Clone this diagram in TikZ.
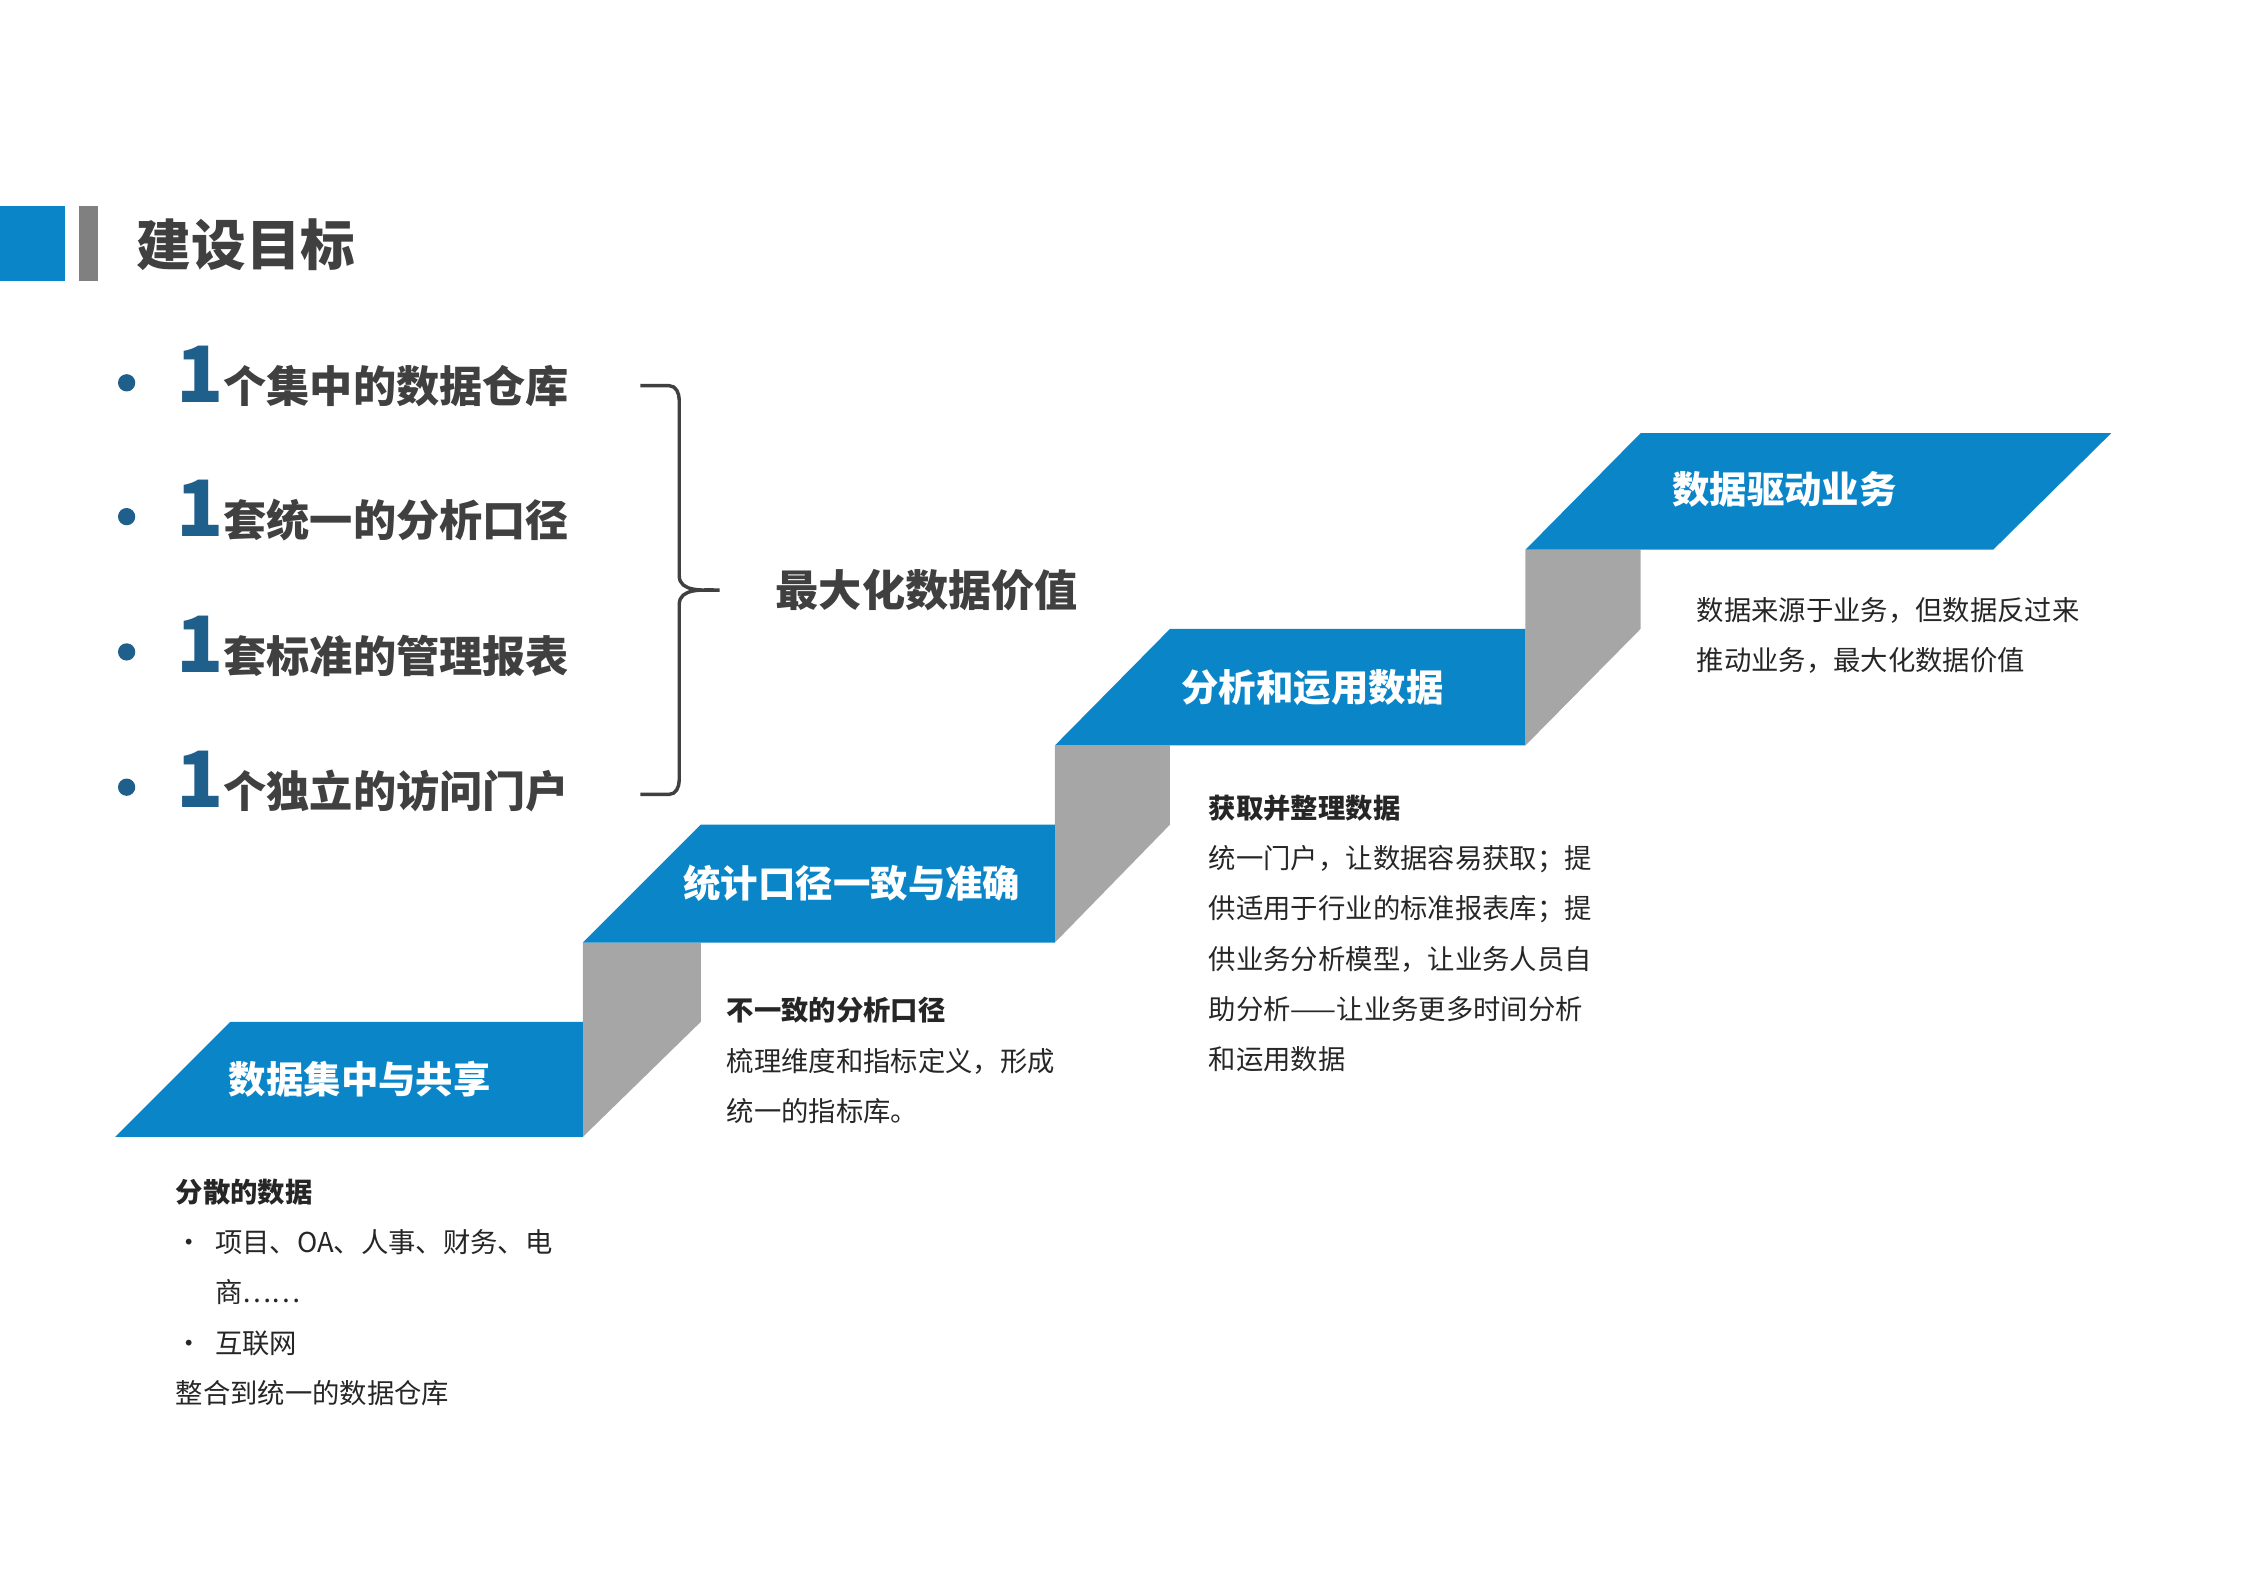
\documentclass[tikz,border=0pt]{standalone}
\usepackage{fontspec}
\setmainfont{Noto Sans CJK SC}
\usetikzlibrary{decorations.pathreplacing}
\definecolor{blu}{HTML}{0A86C8}
\definecolor{dblu}{HTML}{1F5F8B}
\definecolor{gry}{HTML}{A6A6A6}
\definecolor{txt}{HTML}{404040}
\tikzset{
 stepbox/.style={fill=blu,draw=none},
 riser/.style={fill=gry,draw=none},
 steplabel/.style={text=white,font=\fontsize{13}{15}\selectfont\bfseries},
 goal/.style={anchor=base west,text=txt,font=\fontsize{15}{18}\selectfont\bfseries},
 small/.style={anchor=north west,text=black!85,align=left,font=\fontsize{9.5}{17.5}\selectfont},
}
\begin{document}
\begin{tikzpicture}[x=0.5pt,y=-0.5pt]
\useasboundingbox (0,0) rectangle (1560,1103);
\fill[blu] (0,143) rectangle (45,195);
\fill[gray] (55,143) rectangle (68,195);
\node[anchor=west,text=txt,font=\fontsize{19}{22}\selectfont\bfseries] (title) at (88,170) {建设目标};
\foreach \y/\t [count=\i] in {280/个集中的数据仓库,373/套统一的分析口径,467/套标准的管理报表,561/个独立的访问门户}{
 \fill[dblu] (88,\y-14) circle (6);
 \node[anchor=base west,text=dblu,font=\fontsize{27}{30}\selectfont\bfseries,inner sep=0] (one\i) at (122,\y) {1};
 \node[goal,inner sep=0] (g\i) at (155,\y) {\t};
}
\draw[txt,line width=1.2pt] (445,268) -- (465,268) to[out=0,in=90] (472,278) -- (472,400) to[out=-90,in=180] (500,410) to[out=180,in=90] (472,420) -- (472,542) to[out=-90,in=0] (465,552) -- (445,552);
\node[anchor=west,text=txt,font=\fontsize{15}{18}\selectfont\bfseries] (max) at (532,410) {最大化数据价值};
% steps
\fill[riser] (405,655) -- (487,655) -- (487,710) -- (405,790) -- cycle;
\fill[riser] (733,518) -- (813,518) -- (813,573) -- (733,655) -- cycle;
\fill[riser] (1060,382) -- (1140,382) -- (1140,437) -- (1060,518) -- cycle;
\fill[stepbox] (80,790) -- (160,710) -- (405,710) -- (405,790) -- cycle;
\fill[stepbox] (405,655) -- (487,573) -- (733,573) -- (733,655) -- cycle;
\fill[stepbox] (733,518) -- (813,437) -- (1060,437) -- (1060,518) -- cycle;
\fill[stepbox] (1060,382) -- (1140,301) -- (1467,301) -- (1385,382) -- cycle;
\node[steplabel] (s1) at (250,750) {数据集中与共享};
\node[steplabel] (s2) at (592,614) {统计口径一致与准确};
\node[steplabel] (s3) at (912,478) {分析和运用数据};
\node[steplabel] (s4) at (1240,340) {数据驱动业务};
% texts
\node[small] (t1) at (115,812) {\textbf{分散的数据}\\
\textbullet\ \ 项目、OA、人事、财务、电\\
\hphantom{\textbullet\ \ }商……\\
\textbullet\ \ 互联网\\
整合到统一的数据仓库};
\node[small] (t2) at (498,686) {\textbf{不一致的分析口径}\\梳理维度和指标定义，形成\\统一的指标库。};
\node[small] (t3) at (833,545) {\textbf{获取并整理数据}\\统一门户，让数据容易获取；提\\供适用于行业的标准报表库；提\\供业务分析模型，让业务人员自\\助分析——让业务更多时间分析\\和运用数据};
\node[small] (t4) at (1172,408) {数据来源于业务，但数据反过来\\推动业务，最大化数据价值};
\end{tikzpicture}
\end{document}
